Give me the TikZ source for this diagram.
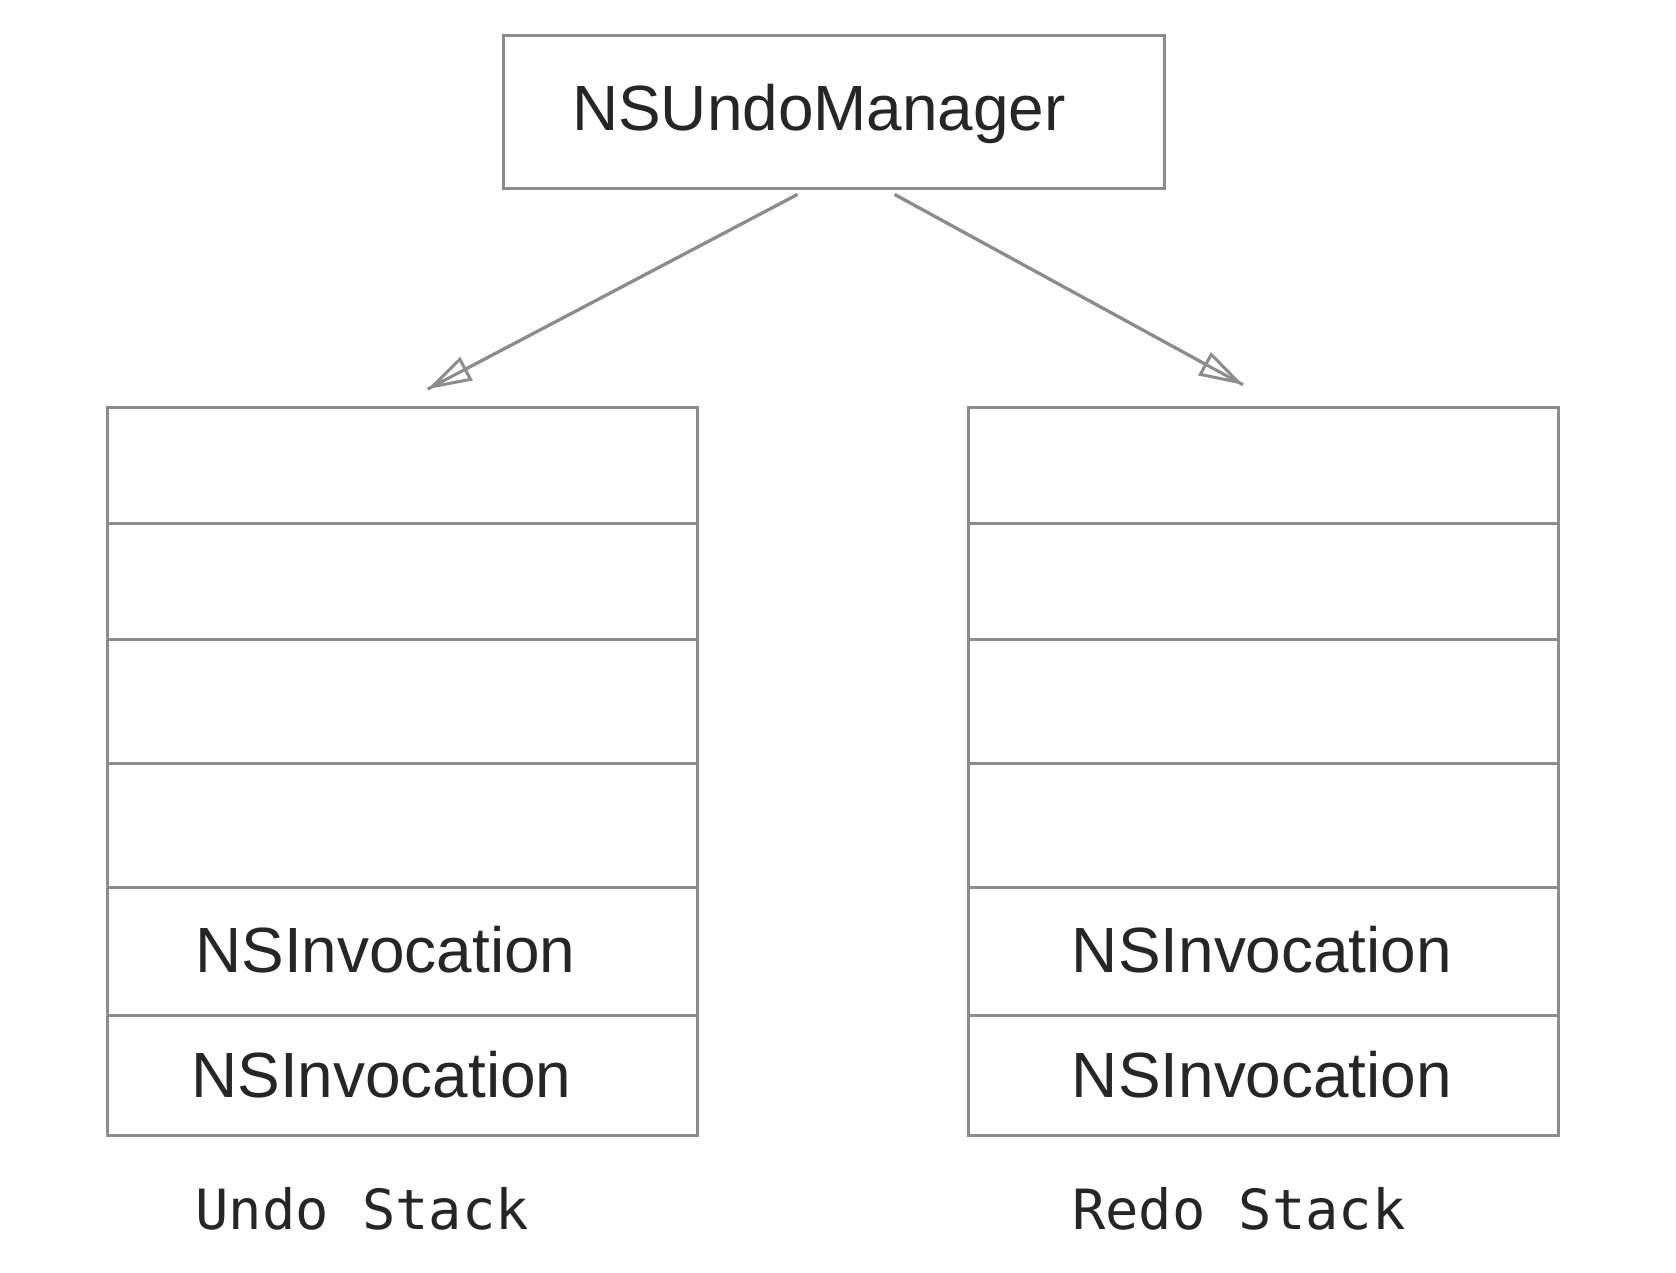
\documentclass[tikz,border=0pt]{standalone}
\usepackage{fontspec}
\setmainfont{Liberation Sans}
\newfontfamily\monofam{DejaVu Sans Mono}
\usetikzlibrary{arrows.meta}
\definecolor{linegray}{HTML}{8C8C8C}
\definecolor{txt}{HTML}{262626}
\tikzset{
  boxline/.style={draw=linegray, line width=3pt, fill=none, inner sep=0pt},
  rowbox/.style={boxline, minimum width=590pt},
  bigtext/.style={text=txt, inner sep=0pt, anchor=base, font=\fontsize{63.9pt}{70pt}\selectfont},
  monotext/.style={text=txt, inner sep=0pt, anchor=base, font=\monofam\fontsize{55.4pt}{60pt}\selectfont},
  conn/.style={draw=linegray, line width=3pt},
  connhead/.style={conn, -{Triangle[open, length=44pt, width=26pt, line width=3pt]}}
}
\begin{document}
\begin{tikzpicture}[x=1pt,y=-1pt]
\useasboundingbox[fill=white] (0,0) rectangle (1676,1272);
% manager
\node[boxline, minimum width=661pt, minimum height=153pt] (mgr) at (833.5,111.5) {};
\node[bigtext] (mgrtext) at (819,130) {NSUndoManager};
% left stack rows
\node[rowbox, minimum height=116.6pt] (l1) at (402,465.5) {};
\node[rowbox, minimum height=115.4pt] (l2) at (402,581.5) {};
\node[rowbox, minimum height=124pt]   (l3) at (402,701.2) {};
\node[rowbox, minimum height=124pt]   (l4) at (402,825.2) {};
\node[rowbox, minimum height=128.2pt] (l5) at (402,951.3) {};
\node[rowbox, minimum height=119.8pt] (l6) at (402,1075.3) {};
% right stack rows
\node[rowbox, minimum height=116.6pt] (r1) at (1263,465.5) {};
\node[rowbox, minimum height=115.4pt] (r2) at (1263,581.5) {};
\node[rowbox, minimum height=124pt]   (r3) at (1263,701.2) {};
\node[rowbox, minimum height=124pt]   (r4) at (1263,825.2) {};
\node[rowbox, minimum height=128.2pt] (r5) at (1263,951.3) {};
\node[rowbox, minimum height=119.8pt] (r6) at (1263,1075.3) {};
% texts
\node[bigtext] (l5t) at (385.3,972.7) {NSInvocation};
\node[bigtext] (l6t) at (381.5,1097.8) {NSInvocation};
\node[bigtext] (r5t) at (1262,972.7) {NSInvocation};
\node[bigtext] (r6t) at (1262,1097.8) {NSInvocation};
\node[monotext] (undo) at (362.3,1229) {Undo Stack};
\node[monotext] (redo) at (1238.8,1229) {Redo Stack};
% connectors
\coordinate (s1) at (797.4,194.5);
\coordinate (e1) at (427.6,389.1);
\coordinate (s2) at (894.7,194.5);
\coordinate (e2) at (1243.1,384.8);
\draw[conn] (s1) -- (e1);
\draw[connhead] (s1) -- (e1);
\draw[conn] (s2) -- (e2);
\draw[connhead] (s2) -- (e2);
\end{tikzpicture}
\end{document}
